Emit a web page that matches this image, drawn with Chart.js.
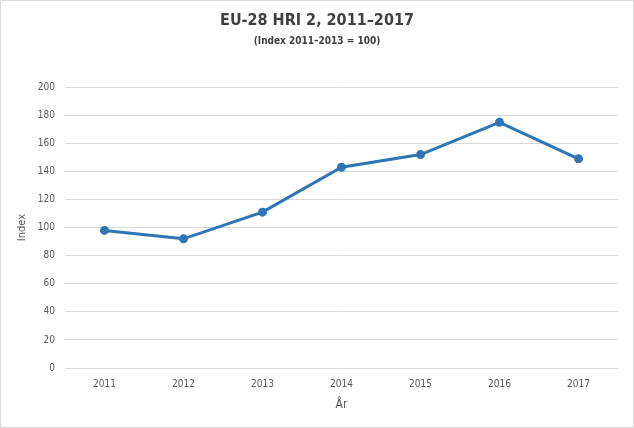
<!DOCTYPE html>
<html>
<head>
<meta charset="utf-8">
<script src="https://cdn.jsdelivr.net/npm/chart.js"></script>
<style>
  html, body { margin: 0; padding: 0; background: #fff; }
  #wrap { width: 634px; height: 428px; }
</style>
</head>
<body>
<div id="wrap"><canvas id="hriChart" width="634" height="428"></canvas></div>
<script>

// data
const years = ['2011', '2012', '2013', '2014', '2015', '2016', '2017'];
const hriValues = [98, 92, 111, 143, 152, 175, 149];

const FONT = '"Liberation Sans Narrow", "DejaVu Sans Condensed", "Liberation Sans", sans-serif';

// white background + thin grey frame like the Excel chart
const framePlugin = {
  id: 'frame',
  beforeDraw(chart) {
    const ctx = chart.ctx;
    ctx.save();
    ctx.fillStyle = '#ffffff';
    ctx.fillRect(0, 0, chart.width, chart.height);
    ctx.strokeStyle = '#d9d9d9';
    ctx.lineWidth = 1;
    ctx.strokeRect(0.5, 0.5, chart.width - 1, chart.height - 1);
    ctx.restore();
  }
};

new Chart(document.getElementById('hriChart'), {
  type: 'line',
  data: {
    labels: years,
    datasets: [{
      label: 'EU-28 HRI 2',
      data: hriValues,
      borderColor: '#2E75B6',
      backgroundColor: '#2E75B6',
      borderWidth: 3,
      pointRadius: 3,
      pointHoverRadius: 3,
      tension: 0
    }]
  },
  options: {
    responsive: false,
    animation: false,
    layout: { padding: { left: 16, right: 16, top: 0, bottom: 0 } },
    plugins: {
      legend: { display: false },
      tooltip: { enabled: false },
      title: {
        display: true,
        text: 'EU-28 HRI 2, 2011–2017',
        color: '#404040',
        font: { family: FONT, size: 16, weight: 'bold' },
        padding: { top: 11, bottom: 2 }
      },
      subtitle: {
        display: true,
        text: '(Index 2011–2013 = 100)',
        color: '#404040',
        font: { family: FONT, size: 10, weight: 'bold' },
        padding: { top: 3, bottom: 40 }
      }
    },
    scales: {
      x: {
        offset: true,
        afterFit(scale) { scale.height = 60; },
        grid: { display: false, drawTicks: false },
        border: { display: false },
        ticks: {
          color: '#595959',
          font: { family: FONT, size: 10 },
          padding: 10,
          maxRotation: 0
        },
        title: {
          display: true,
          text: 'År',
          color: '#595959',
          font: { family: FONT, size: 12 },
          padding: { top: 0, bottom: 16 }
        }
      },
      y: {
        min: 0,
        max: 200,
        afterFit(scale) { scale.width = 49; },
        grid: { color: '#d9d9d9', drawTicks: false },
        border: { display: false },
        ticks: {
          stepSize: 20,
          color: '#595959',
          font: { family: FONT, size: 10 },
          padding: 10
        },
        title: {
          display: true,
          text: 'Index',
          color: '#595959',
          font: { family: FONT, size: 11 },
          padding: { top: 0, bottom: 0 }
        }
      }
    }
  },
  plugins: [framePlugin]
});

</script>
</body>
</html>
